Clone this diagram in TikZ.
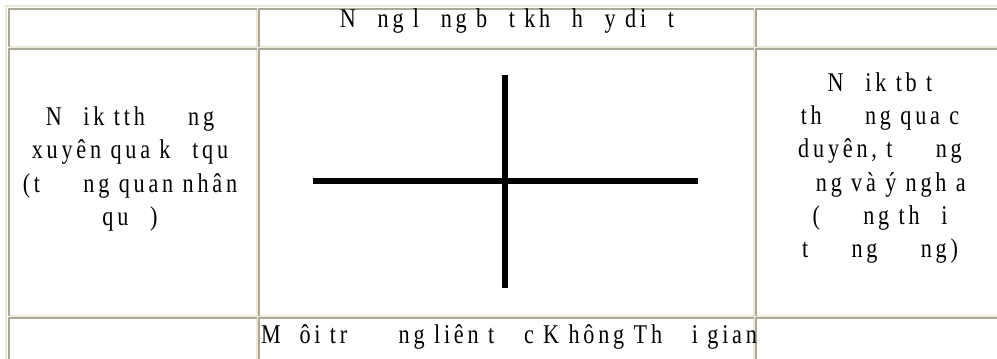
\documentclass[tikz,border=0pt]{standalone}
\usepackage{fontspec}
\setmainfont{Liberation Serif}
\newfontfamily\cellfont[FakeStretch=0.82,LetterSpace=14]{Liberation Serif}
\usetikzlibrary{positioning}
\definecolor{bdark}{RGB}{172,168,153}
\definecolor{blight}{RGB}{236,233,216}
\newcommand{\gp}{\hspace{0.8em}}
\tikzset{
  edgedk/.style  ={draw=bdark, line width=2pt},
  edgelt/.style  ={draw=blight, line width=2pt},
  celltxt/.style ={font=\cellfont\fontsize{20.3}{24.9}\selectfont,
                   align=center, inner sep=0pt},
  crossbar/.style={line width=5.2pt, black},
}

\begin{document}
\begin{tikzpicture}[x=0.75pt, y=-0.75pt]
\useasboundingbox (0,0) rectangle (997,358);
% table frame and cells
\draw[edgelt] (6,362) -- (6,6) -- (1005,6);
\foreach \xa/\xb in {8/258,258/755,755/1005}
  \foreach \ya/\yb in {8/48,48/317,317/362} {
    \draw[edgelt] ({\xb-1},{\ya+1}) -- ({\xb-1},{\yb-1}) -- ({\xa+1},{\yb-1});
    \draw[edgedk] ({\xa+1},{\yb-1}) -- ({\xa+1},{\ya+1}) -- ({\xb-1},{\ya+1});
  }
% texts
\node[celltxt, anchor=base] (top) at (507,27)
  {N\gp ng l\gp ng b\gp t kh\gp h\gp y di\gp t};
\node[celltxt, anchor=base] (bot) at (509,343)
  {M\hspace{0.35em} ôi tr\gp\gp\hspace{0.3em}ng liên t\gp\hspace{0.3em}c K hông Th\gp\hspace{0.3em}i gian};
\node[celltxt] (lft) at (130,169)
  {N\gp ik tth\gp\gp ng\\xuyên qua k\gp tqu\gp\\(t\gp\gp ng quan nhân\\qu\gp )};
\node[celltxt] (rgt) at (880,168)
  {N\gp ik tb t\\th\gp\gp ng qua c\\duyên, t\gp\gp ng\\\gp ng và ý ngh a\\(\gp\gp ng th\gp i\\t\gp\gp ng\gp\gp ng)};
% cross
\coordinate (hl) at (313,181);
\coordinate (hr) at (698,181);
\coordinate (vt) at (505,75);
\coordinate (vb) at (505,288);
\draw[crossbar] (hl) -- (hr);
\draw[crossbar] (vt) -- (vb);
\end{tikzpicture}
\end{document}
